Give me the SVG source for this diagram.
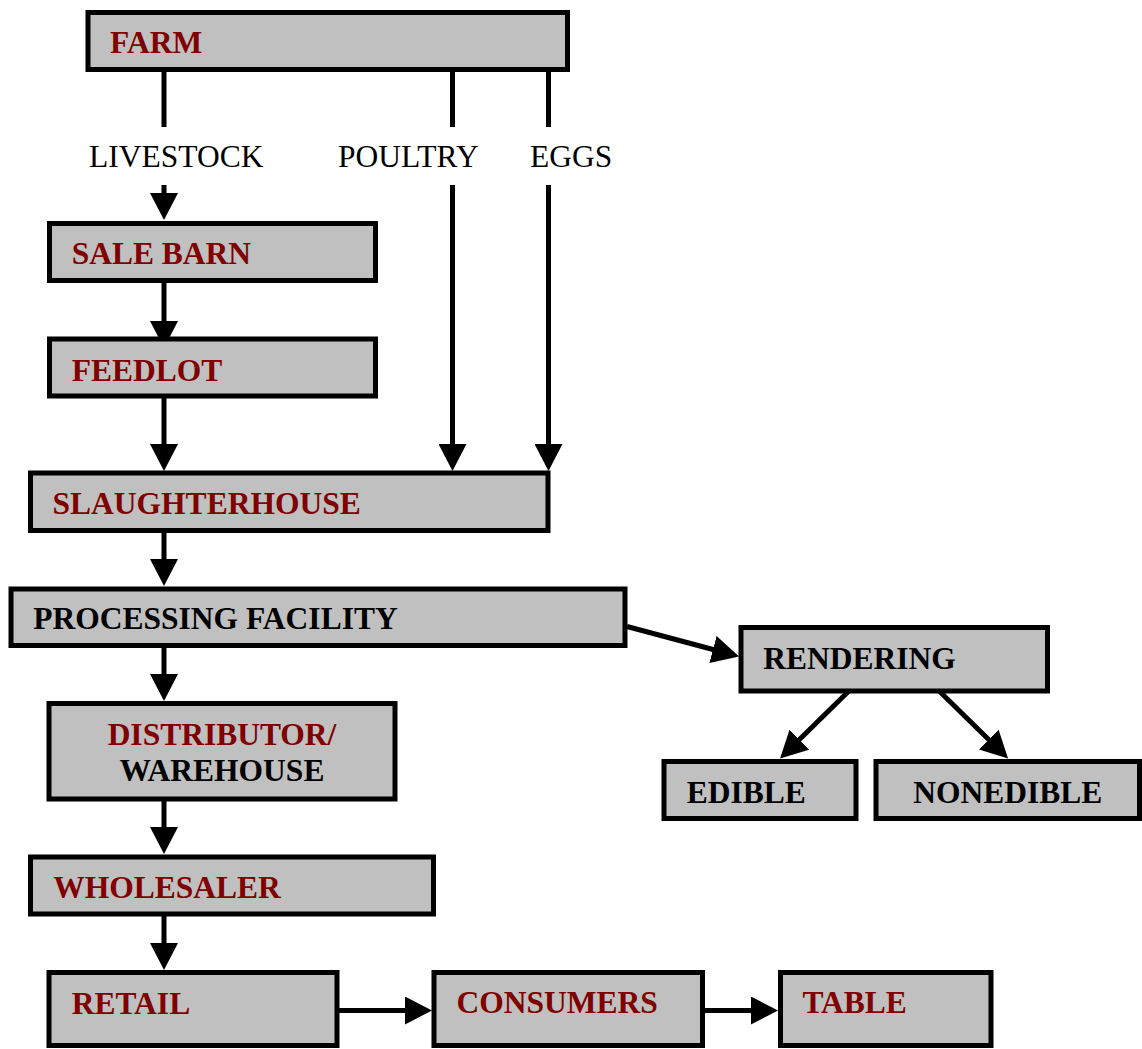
<svg xmlns="http://www.w3.org/2000/svg" width="1142" height="1049" viewBox="0 0 1142 1049">
<defs>
<style>
.box{fill:#c0c0c0;stroke:#000;stroke-width:5}
.t{font-family:"Liberation Serif","Times New Roman",serif;font-size:31.5px;font-weight:bold;fill:#000}
.r{fill:#800000}
.lbl{font-family:"Liberation Serif","Times New Roman",serif;font-size:31.5px;fill:#000}
.c{stroke:#000;stroke-width:5;fill:none}
.a{marker-end:url(#ah)}
</style>
<marker id="ah" markerUnits="userSpaceOnUse" markerWidth="28" markerHeight="28" refX="2" refY="14" orient="auto" viewBox="0 0 28 28">
<path d="M0,0 L27,14 L0,28 Z" fill="#000"/>
</marker>
</defs>
<rect width="1142" height="1049" fill="#fff"/>
<g id="connectors">
<line class="c" x1="164" y1="70" x2="164" y2="127"/>
<line class="c a" x1="164" y1="185" x2="164" y2="195"/>
<line class="c" x1="452.5" y1="70" x2="452.5" y2="127"/>
<line class="c a" x1="452.5" y1="185" x2="452.5" y2="446"/>
<line class="c" x1="548.5" y1="70" x2="548.5" y2="127"/>
<line class="c a" x1="548.5" y1="185" x2="548.5" y2="446"/>
<line class="c a" x1="164" y1="281" x2="164" y2="323"/>
<line class="c a" x1="164" y1="397" x2="164" y2="446"/>
<line class="c a" x1="164" y1="531" x2="164" y2="561"/>
<line class="c a" x1="164" y1="646" x2="164" y2="676"/>
<line class="c a" x1="164" y1="799" x2="164" y2="829"/>
<line class="c a" x1="164" y1="915" x2="164" y2="945"/>
<line class="c a" x1="338" y1="1010.5" x2="407" y2="1010.5"/>
<line class="c a" x1="704" y1="1010.5" x2="753" y2="1010.5"/>
<line class="c a" x1="627" y1="626.5" x2="714.9" y2="650"/>
<line class="c a" x1="855" y1="685" x2="797.9" y2="741"/>
<line class="c a" x1="933" y1="685" x2="990.2" y2="741"/>
</g>
<g id="labels">
<text class="lbl" x="89" y="167">LIVESTOCK</text>
<text class="lbl" x="338" y="167">POULTRY</text>
<text class="lbl" x="530" y="167">EGGS</text>
</g>
<g id="farm"><rect class="box" x="88" y="12.5" width="479.5" height="57"/><text class="t r" x="110" y="53">FARM</text></g>
<g id="salebarn"><rect class="box" x="49.5" y="223.5" width="326" height="57"/><text class="t r" x="71.7" y="264.3">SALE BARN</text></g>
<g id="feedlot"><rect class="box" x="49.5" y="339" width="326" height="57"/><text class="t r" x="71.7" y="381">FEEDLOT</text></g>
<g id="slaughterhouse"><rect class="box" x="30.5" y="473" width="517.5" height="57.5"/><text class="t r" x="52.6" y="514.3">SLAUGHTERHOUSE</text></g>
<g id="processing"><rect class="box" x="11" y="589" width="614" height="56.5"/><text class="t" x="33.3" y="629.3">PROCESSING FACILITY</text></g>
<g id="rendering"><rect class="box" x="741" y="627.5" width="306.5" height="63.5"/><text class="t" x="763.3" y="669.3">RENDERING</text></g>
<g id="edible"><rect class="box" x="664" y="761.5" width="192" height="57"/><text class="t" x="686.7" y="802.7">EDIBLE</text></g>
<g id="nonedible"><rect class="box" x="876" y="761.5" width="263.5" height="57"/><text class="t" x="913.3" y="802.7">NONEDIBLE</text></g>
<g id="distributor"><rect class="box" x="49" y="703.5" width="346" height="95.5"/><text class="t r" x="222" y="745" text-anchor="middle">DISTRIBUTOR/</text><text class="t" x="222" y="781" text-anchor="middle">WAREHOUSE</text></g>
<g id="wholesaler"><rect class="box" x="30.5" y="857" width="403" height="57"/><text class="t r" x="53.3" y="898.3">WHOLESALER</text></g>
<g id="retail"><rect class="box" x="49" y="972.5" width="288" height="73"/><text class="t r" x="71.7" y="1014">RETAIL</text></g>
<g id="consumers"><rect class="box" x="434" y="972.5" width="268.5" height="73"/><text class="t r" x="456.6" y="1013.3">CONSUMERS</text></g>
<g id="table"><rect class="box" x="780.5" y="972.5" width="210.5" height="73"/><text class="t r" x="802.4" y="1013.3">TABLE</text></g>
</svg>
